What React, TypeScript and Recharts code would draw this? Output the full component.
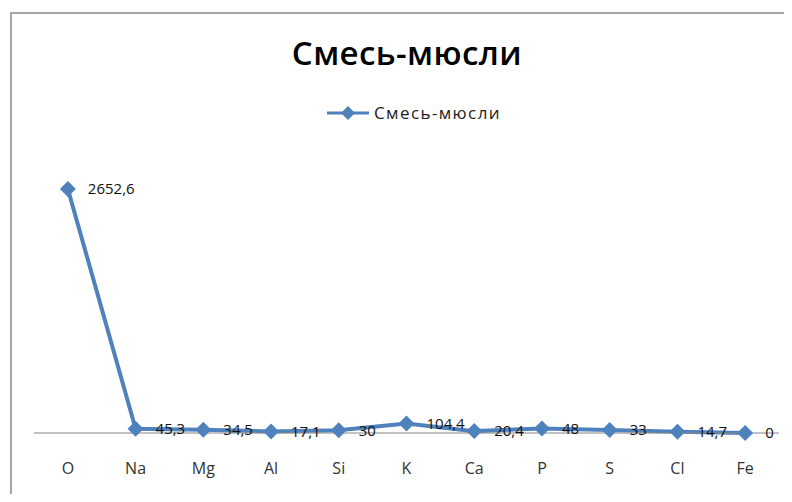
import React from 'react';
import { LineChart, Line, XAxis, YAxis, Legend, LabelList } from 'recharts';

// elements and their content in the muesli mix
const elements = ['O', 'Na', 'Mg', 'Al', 'Si', 'K', 'Ca', 'P', 'S', 'Cl', 'Fe'];
const muesli = [2652.6, 45.3, 34.5, 17.1, 30, 104.4, 20.4, 48, 33, 14.7, 0];
const seriesName = 'Смесь-мюсли';

const data = elements.map((el, i) => ({ el, value: muesli[i] }));

const BLUE = '#4f81bd';
const FONT = '"Open Sans", "Noto Sans", sans-serif';

const Diamond = (props: any) => {
  const { cx, cy } = props;
  if (cx == null || cy == null) return null;
  return (
    <polygon
      points={`${cx},${cy - 8} ${cx + 8},${cy} ${cx},${cy + 8} ${cx - 8},${cy}`}
      fill={BLUE}
    />
  );
};

const LegendContent = () => (
  <div style={{ display: 'flex', alignItems: 'center', justifyContent: 'center', fontFamily: FONT, height: 18 }}>
    <svg width={42} height={16}>
      <line x1={0} y1={8} x2={42} y2={8} stroke={BLUE} strokeWidth={3} />
      <polygon points="21,1 28,8 21,15 14,8" fill={BLUE} />
    </svg>
    <span style={{ fontSize: 17, color: '#222', marginLeft: 5, letterSpacing: 1.4, lineHeight: '18px' }}>{seriesName}</span>
  </div>
);

const fmt = (v: any) => String(v).replace('.', ',');

const App: React.FC = () => {
  return (
    <div style={{ position: 'relative', width: 792, height: 502, margin: -8, background: '#fff', overflow: 'hidden' }}>
      <div
        style={{
          position: 'absolute',
          left: 10,
          top: 12,
          width: 800,
          height: 500,
          borderTop: '2px solid #a6a6a6',
          borderLeft: '2px solid #a6a6a6',
        }}
      />
      <div
        style={{
          position: 'absolute',
          top: 30,
          left: 0,
          width: 814,
          textAlign: 'center',
          fontFamily: FONT,
          fontWeight: 600,
          fontSize: 33,
          letterSpacing: 0.4,
          color: '#000',
        }}
      >
        {seriesName}
      </div>
      <LineChart
        width={792}
        height={502}
        data={data}
        margin={{ top: 139, right: 13, bottom: 39, left: 34 }}
        style={{ position: 'absolute', left: 0, top: 0 }}
      >
        <XAxis
          dataKey="el"
          scale="band"
          stroke="#868686"
          tickLine={false}
          tickSize={0}
          tickMargin={30}
          height={30}
          tick={{ fill: '#333', fontSize: 16, fontFamily: FONT }}
          interval={0}
        />
        <YAxis hide domain={[0, 3000]} />
        <Legend
          verticalAlign="top"
          height={18}
          content={<LegendContent />}
          wrapperStyle={{ top: 104, left: 18, width: 792 }}
        />
        <Line
          dataKey="value"
          name={seriesName}
          stroke={BLUE}
          strokeWidth={4}
          dot={<Diamond />}
          activeDot={false}
          isAnimationActive={false}
        >
          <LabelList
            dataKey="value"
            position="right"
            offset={20}
            formatter={fmt}
            style={{ fill: '#111', fontSize: 15, fontFamily: FONT }}
          />
        </Line>
      </LineChart>
    </div>
  );
};

export default App;
